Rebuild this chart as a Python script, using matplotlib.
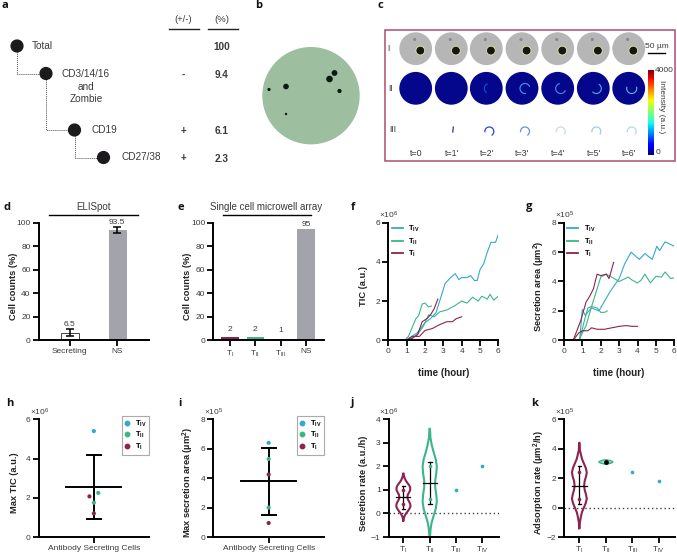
import numpy as np
import matplotlib
matplotlib.use("Agg")
from matplotlib import pyplot as plt
from matplotlib.patches import Circle, Arc, Rectangle
from matplotlib.lines import Line2D

plt.rcParams['font.family'] = ['Liberation Sans', 'DejaVu Sans']
plt.rcParams['mathtext.default'] = 'regular'

W, H = 677, 557
RED = '#8c2350'
GREEN = '#3db48a'
CYAN = '#33a9cf'
GRAY = '#a3a3ab'
TXT = '#3a3a3a'

T1 = 'T$_{I}$'
T2 = 'T$_{II}$'
T3 = 'T$_{III}$'
T4 = 'T$_{IV}$'

# panel a
gate_labels = ['Total', 'CD3/14/16\nand\nZombie', 'CD19', 'CD27/38']
gate_signs = ['', '-', '+', '+']
gate_percent = ['100', '9.4', '6.1', '2.3']

# panel c
time_labels = ['t=0', "t=1'", "t=2'", "t=3'", "t=4'", "t=5'", "t=6'"]
row_labels = ['I', 'II', 'III']
ring_colors = [None, None, '#1c50c8', '#3f9be8', '#3f8fe8', '#45b4e8', '#58bfe8']
ring_spans = [None, None, (120, 250), (80, 340), (20, 260), (300, 140), (340, 200)]
sub_colors = [None, '#2a35b0', '#2e45c8', '#6a8fe0', '#c6dcec', '#9cd0ea', '#aee0e0']

# panel d, e
elispot_labels = ['Secreting', 'NS']
elispot_values = [6.5, 93.5]
elispot_err = [3, 2.5]
array_labels = [T1, T2, T3, 'NS']
array_values = [2.5, 2.5, 1, 95]
array_text = ['2', '2', '1', '95']
array_colors = [RED, GREEN, CYAN, GRAY]

# panel f
f_t4_x = [0.9, 1.2, 1.6, 2.0, 2.3, 2.6, 2.8, 3.1, 3.4, 3.65, 3.85, 4.0, 4.3, 4.5, 4.7, 4.85, 5.0, 5.2, 5.4, 5.6, 5.75, 5.85, 6.0]
f_t4_y = [0, 0.15, 0.4, 0.9, 1.1, 1.4, 2.0, 2.9, 3.2, 3.4, 3.1, 3.2, 3.2, 3.3, 3.05, 3.05, 3.6, 3.9, 4.5, 5.0, 5.0, 5.0, 5.4]
f_t2a_x = [0.9, 1.1, 1.3, 1.5, 1.65, 1.85, 2.0, 2.2, 2.35]
f_t2a_y = [0, 0.2, 0.65, 1.1, 1.25, 1.85, 1.9, 1.7, 1.75]
f_t2b_x = [1.0, 1.3, 1.6, 1.9, 2.2, 2.5, 2.8, 3.2, 3.6, 4.0, 4.3, 4.6, 4.9, 5.1, 5.4, 5.55, 5.75, 6.0]
f_t2b_y = [0, 0.1, 0.3, 0.7, 1.3, 1.2, 1.45, 1.55, 1.75, 2.0, 1.9, 2.2, 2.0, 2.25, 2.1, 2.35, 2.05, 2.25]
f_t1a_x = [0.7, 1.0, 1.3, 1.6, 1.85, 2.1, 2.3, 2.5, 2.7]
f_t1a_y = [0, 0, 0.1, 0.3, 0.95, 1.1, 1.3, 1.6, 2.1]
f_t1b_x = [0.6, 1.0, 1.3, 1.7, 2.0, 2.4, 2.8, 3.2, 3.5, 3.7, 4.0]
f_t1b_y = [0, 0, 0.2, 0.2, 0.5, 0.6, 0.8, 0.95, 0.95, 1.1, 1.2]

# panel g
g_t4_x = [0.85, 1.0, 1.15, 1.5, 1.9, 2.5, 3.0, 3.3, 3.65, 4.1, 4.4, 4.8, 5.05, 5.2, 5.5, 6.0]
g_t4_y = [0, 2.1, 1.7, 2.2, 2.0, 3.3, 4.2, 5.2, 6.0, 5.5, 5.9, 5.5, 6.4, 6.1, 6.7, 6.4]
g_t2a_x = [0.85, 1.1, 1.3, 1.5, 1.8, 2.0, 2.2, 2.35]
g_t2a_y = [0, 1.3, 2.2, 2.3, 2.2, 1.9, 1.9, 2.0]
g_t2b_x = [0.8, 1.2, 1.5, 1.8, 2.0, 2.3, 2.6, 3.0, 3.5, 3.7, 4.0, 4.2, 4.4, 4.7, 5.0, 5.3, 5.5, 5.8, 6.0]
g_t2b_y = [0, 1.0, 2.3, 3.5, 4.3, 4.5, 4.3, 4.0, 4.3, 4.1, 3.9, 4.1, 4.5, 3.9, 4.35, 4.3, 4.65, 4.2, 4.25]
g_t1a_x = [0.5, 0.9, 1.2, 1.4, 1.6, 1.8, 2.0, 2.3, 2.45, 2.7]
g_t1a_y = [0, 1.3, 2.6, 3.0, 3.5, 4.5, 4.4, 4.5, 4.2, 5.3]
g_t1b_x = [0.5, 0.8, 1.0, 1.3, 1.5, 1.8, 2.2, 2.6, 3.0, 3.4, 3.7, 4.0]
g_t1b_y = [0, 0.5, 0.65, 0.65, 0.85, 0.75, 0.75, 0.85, 0.95, 1.0, 0.95, 0.95]

# panel h, i
h_x = [1, 1.08, 0.92, 1, 1]
h_y = [5.4, 2.25, 2.07, 1.75, 1.2]
i_x = [1, 1, 1, 1, 1]
i_y = [6.4, 5.3, 4.25, 2.0, 0.95]
point_colors = [CYAN, GREEN, RED, GREEN, RED]
h_mean, h_low, h_high = 2.55, 0.9, 4.2
i_mean, i_low, i_high = 3.8, 1.5, 6.05

# panel j, k
rate_labels = [T1, T2, T3, T4]
j_v1_y = [-0.3, -0.2, -0.1, 0, 0.1, 0.2, 0.3, 0.4, 0.5, 0.6, 0.7, 0.8, 0.9, 1.0, 1.1, 1.2, 1.3, 1.4, 1.5, 1.6, 1.7]
j_v1_w = [0.01, 0.02, 0.05, 0.1, 0.17, 0.23, 0.27, 0.26, 0.22, 0.17, 0.15, 0.17, 0.22, 0.26, 0.26, 0.22, 0.15, 0.09, 0.05, 0.02, 0.01]
j_v2_y = [-1, -0.7, -0.4, -0.1, 0.2, 0.5, 0.8, 1.1, 1.4, 1.7, 2, 2.3, 2.6, 2.9, 3.2, 3.6]
j_v2_w = [0.01, 0.03, 0.07, 0.15, 0.23, 0.27, 0.25, 0.21, 0.21, 0.25, 0.27, 0.23, 0.15, 0.08, 0.03, 0.01]
j_stats = [(0.7, 0.2, 1.15), (1.3, 0.4, 2.2)]
j_pts = [(1, 0.4, RED), (1, 1.0, RED), (2, 0.6, GREEN), (2, 2.0, GREEN), (3, 1.0, CYAN), (4, 2.0, CYAN)]
k_v1_y = [-1.4, -1, -0.6, -0.3, 0, 0.3, 0.6, 0.9, 1.2, 1.5, 1.8, 2.1, 2.4, 2.7, 3, 3.3, 3.6, 3.9, 4.4]
k_v1_w = [0.01, 0.02, 0.06, 0.1, 0.17, 0.24, 0.28, 0.25, 0.2, 0.18, 0.2, 0.25, 0.28, 0.24, 0.17, 0.1, 0.06, 0.02, 0.01]
k_v2_y = [2.95, 3.0, 3.05, 3.1, 3.15, 3.2, 3.25]
k_v2_w = [0.02, 0.15, 0.23, 0.27, 0.23, 0.15, 0.02]
k_stats = [(1.5, 0.25, 2.8)]
k_pts = [(1, 0.6, RED), (1, 2.4, RED), (2, 3.1, 'black'), (3, 2.4, CYAN), (4, 1.8, CYAN)]


def add_ax(left, top, right, bottom):
    ax = fig.add_axes([left / W, 1 - bottom / H, (right - left) / W, (bottom - top) / H])
    ax.patch.set_alpha(0)
    for s in ['top', 'right']:
        ax.spines[s].set_visible(False)
    for s in ['left', 'bottom']:
        ax.spines[s].set_linewidth(1.4)
    ax.tick_params(width=1.3, length=4, labelsize=6, labelcolor=TXT, pad=1.8)
    ax.spines['left'].set_zorder(5)
    return ax


def ylabel(ax, text, px, size=6.7):
    ax.set_ylabel(text, fontsize=size, color='#222222', fontweight='bold')
    ax.yaxis.set_label_coords(-px / (ax.get_position().width * W), 0.46)


def tree_legend(ax, anchor):
    hs = [Line2D([], [], color=c, lw=1.3) for c in [CYAN, GREEN, RED]]
    leg = ax.legend(hs, [T4, T2, T1], loc='upper left', bbox_to_anchor=anchor, frameon=False,
                    fontsize=5.5, handlelength=1.45, handletextpad=0.7, labelspacing=0.3, borderpad=0, borderaxespad=0)
    for t in leg.get_texts():
        t.set_fontweight('bold')


def dot_legend(ax, anchor):
    hs = [Line2D([], [], color=c, marker='o', ms=3.2, ls='none') for c in [CYAN, GREEN, RED]]
    leg = ax.legend(hs, [T4, T2, T1], loc='upper right', bbox_to_anchor=anchor, fancybox=False, edgecolor='#aaaaaa',
                    framealpha=1, fontsize=5.5, handlelength=0.6, handletextpad=0.7, labelspacing=0.2,
                    borderpad=0.35, borderaxespad=0)
    leg.get_frame().set_linewidth(0.8)
    for t in leg.get_texts():
        t.set_fontweight('bold')


def violin(ax, pos, ys, ws, color):
    ys = np.array(ys)
    ws = np.array(ws)
    ax.plot(np.r_[pos - ws, (pos + ws)[::-1], pos - ws[0]], np.r_[ys, ys[::-1], ys[0]], color=color, lw=1.5, solid_joinstyle='round')


def stat_bar(ax, pos, mean, low, high, half=0.27, cap=0.08):
    ax.plot([pos - half, pos + half], [mean, mean], color='black', lw=0.9)
    ax.plot([pos, pos], [low, high], color='black', lw=0.9)
    for v in [low, high]:
        ax.plot([pos - cap, pos + cap], [v, v], color='black', lw=0.9)


fig = plt.figure(figsize=(W / 100, H / 100), dpi=100)
bg = fig.add_axes([0, 0, 1, 1])
bg.axis('off')

# panel letters
for name, x, y in [('a', 2, 6), ('b', 255, 6), ('c', 377, 6), ('d', 3, 207), ('e', 178, 207), ('f', 351, 207),
                   ('g', 526, 207), ('h', 6, 403), ('i', 178, 403), ('j', 351, 403), ('k', 531, 403)]:
    bg.text(x, y, name, fontsize=8, fontweight='bold', color='#111111', va='center', family=['Open Sans', 'DejaVu Sans'])

# panel a: gating tree
node_x = [17, 46, 74.5, 103.5]
node_y = [46, 73.5, 130, 157.5]
text_x = [32, 86, 92, 121]
for i in range(4):
    bg.add_patch(Circle((node_x[i], node_y[i]), 5.9, color='#1c1a1c', zorder=3))
    if i < 3:
        bg.plot([node_x[i], node_x[i], node_x[i + 1]], [node_y[i], node_y[i + 1], node_y[i + 1]],
                color='#555555', lw=0.7, ls=(0, (1, 1)))
    if i == 1:
        bg.text(text_x[i], node_y[i] + 13, gate_labels[i], fontsize=7.2, color=TXT, ha='center', va='center', linespacing=1.3)
    else:
        bg.text(text_x[i], node_y[i], gate_labels[i], fontsize=7.2, color=TXT, va='center')
    bg.text(183, node_y[i] + 1, gate_signs[i], fontsize=7, color=TXT, fontweight='bold', ha='center', va='center')
    bg.text(221.5, node_y[i] + 1, gate_percent[i], fontsize=7.2, color=TXT, fontweight='bold', ha='center', va='center')
bg.text(183, 19, '(+/-)', fontsize=6.8, color=TXT, ha='center', va='center')
bg.text(222, 19, '(%)', fontsize=6.8, color=TXT, ha='center', va='center')
bg.plot([169, 199], [29, 29], color='#222222', lw=1)
bg.plot([207.5, 237.5], [29, 29], color='#222222', lw=1)

# panel b: well image
bg.add_patch(Circle((311, 95.7), 48, color='#9dbfa0'))
for sx, sy, sr in [(334.5, 73, 2.2), (329.5, 79, 2.6), (286, 86.5, 2.1), (339.5, 91, 1.4), (269, 89.5, 0.9), (286, 114, 0.5)]:
    bg.add_patch(Circle((sx, sy), sr, color='#0c1a12'))

# panel c: time series
bg.add_patch(Rectangle((385, 29.7), 290, 131.5, fill=False, ec='#b04a70', lw=1.1))
disc_x = [415.7, 451.3, 486.3, 522, 557.7, 593.3, 628.7]
for i, dx in enumerate(disc_x):
    bg.add_patch(Circle((dx, 48.7), 15.7, color='#b6b6b6'))
    bg.add_patch(Circle((dx + 4.6, 50.6), 4.4, fc='#161616', ec='#e6e6a0', lw=0.6))
    bg.add_patch(Circle((dx - 1, 39.5), 0.9, color='#8a8a8a'))
    bg.add_patch(Circle((dx, 88.3), 15.7, color='#04068c'))
    if ring_colors[i]:
        bg.add_patch(Arc((dx + 3, 88.5), 10, 10, theta1=ring_spans[i][0], theta2=ring_spans[i][1], color=ring_colors[i], lw=0.8))
    if sub_colors[i]:
        if i == 1:
            bg.plot([dx + 2, dx + 1.5], [127, 132], color=sub_colors[i], lw=0.9)
        else:
            bg.add_patch(Arc((dx + 3, 131.5), 9, 9, theta1=170, theta2=40 + 360 if i > 3 else 60 + 360, color=sub_colors[i], lw=0.9))
    bg.text(dx + 0.5, 153, time_labels[i], fontsize=6.4, color=TXT, ha='center', va='center')
for lab, x, y in zip(row_labels, [387.5, 388, 389], [48.7, 88.3, 130]):
    bg.text(x, y, lab, fontsize=6.2, color=TXT, va='center')
bg.imshow(np.linspace(1, 0, 256).reshape(-1, 1), cmap='jet', extent=(648, 654, 155, 70), aspect='auto', zorder=2)
bg.text(655, 70.5, '4000', fontsize=6, color=TXT, va='center')
bg.text(656, 153, '0', fontsize=6, color=TXT, va='center')
bg.text(662, 107, 'Intensity (a.u.)', fontsize=6, color=TXT, rotation=-90, ha='center', va='center')
bg.text(657, 47, '50 µm', fontsize=6, color=TXT, ha='center', va='center')
bg.plot([648, 664.5], [53, 53], color='black', lw=1)

# title rules for d, e
bg.text(93.5, 207.5, 'ELISpot', fontsize=7, color=TXT, ha='center', va='center')
bg.plot([49.3, 137.7], [215, 215], color='black', lw=1)
bg.text(266.5, 207.5, 'Single cell microwell array', fontsize=7, color=TXT, ha='center', va='center')
bg.plot([222.7, 310.7], [215, 215], color='black', lw=1)

# multiplier labels
for txt, x, y in [('×10$^{6}$', 379, 215), ('×10$^{5}$', 555, 215), ('×10$^{6}$', 30, 412), ('×10$^{5}$', 204, 412),
                  ('×10$^{6}$', 379, 412), ('×10$^{5}$', 555, 412)]:
    bg.text(x, y, txt, fontsize=6, color=TXT, va='center')

bg.set_xlim(0, W)
bg.set_ylim(H, 0)

# panel d
ax = add_ax(38.7, 222.7, 149, 340.3)
ax.bar([1, 2], elispot_values, width=0.366, color=['white', GRAY], edgecolor=['#444444', GRAY], linewidth=0.7)
ax.errorbar([1, 2], elispot_values, yerr=elispot_err, fmt='none', ecolor='black', elinewidth=1.1, capsize=2.6, capthick=1.1)
ax.text(1, 10.5, '6.5', ha='center', va='bottom', fontsize=6, color=TXT)
ax.text(2, 97, '93.5', ha='center', va='bottom', fontsize=6, color=TXT)
ax.set_xlim(0.34, 2.67)
ax.set_ylim(0, 100)
ax.set_xticks([1, 2], elispot_labels)
ax.set_yticks(range(0, 101, 20))
ylabel(ax, 'Cell counts (%)', 21)

# panel e
ax = add_ax(213.3, 222.7, 324, 340.3)
ax.bar(range(1, 5), array_values, width=0.68, color=array_colors)
for i in range(4):
    ax.text(i + 1, array_values[i] + 4 if i < 3 else 95.2, array_text[i], ha='center', va='bottom', fontsize=6, color=TXT)
ax.set_xlim(0.34, 4.71)
ax.set_ylim(0, 100)
ax.set_xticks(range(1, 5), array_labels)
ax.set_yticks(range(0, 101, 20))
ylabel(ax, 'Cell counts (%)', 21)

# panel f
ax = add_ax(388.3, 222.7, 498.3, 340.3)
ax.plot(f_t4_x, f_t4_y, color=CYAN, lw=0.8)
ax.plot(f_t2a_x, f_t2a_y, color=GREEN, lw=0.8)
ax.plot(f_t2b_x, f_t2b_y, color=GREEN, lw=0.8)
ax.plot(f_t1a_x, f_t1a_y, color=RED, lw=0.8)
ax.plot(f_t1b_x, f_t1b_y, color=RED, lw=0.8)
ax.set_xlim(0, 6)
ax.set_ylim(0, 6)
ax.set_xticks(range(7))
ax.set_yticks([0, 2, 4, 6])
ax.set_xlabel('time (hour)', fontsize=7, fontweight='bold', color='#222222', labelpad=9)
ylabel(ax, 'TIC (a.u.)', 20)
tree_legend(ax, (0.03, 0.99))

# panel g
ax = add_ax(564, 222.7, 674.3, 340.3)
ax.plot(g_t4_x, g_t4_y, color=CYAN, lw=0.8)
ax.plot(g_t2a_x, g_t2a_y, color=GREEN, lw=0.8)
ax.plot(g_t2b_x, g_t2b_y, color=GREEN, lw=0.8)
ax.plot(g_t1a_x, g_t1a_y, color=RED, lw=0.8)
ax.plot(g_t1b_x, g_t1b_y, color=RED, lw=0.8)
ax.set_xlim(0, 6)
ax.set_ylim(0, 8)
ax.set_xticks(range(7))
ax.set_yticks([0, 2, 4, 6, 8])
ax.set_xlabel('time (hour)', fontsize=7, fontweight='bold', color='#222222', labelpad=9)
ylabel(ax, 'Secretion area (µm$^{2}$)', 17)
tree_legend(ax, (0.03, 0.99))

# panel h
ax = add_ax(38.7, 419.3, 149, 537)
ax.scatter(h_x, h_y, s=9, c=point_colors, zorder=4, linewidths=0)
stat_bar(ax, 1, h_mean, h_low, h_high, half=0.5, cap=0.125)
for l in ax.lines:
    l.set_linewidth(1.4)
ax.set_xlim(0, 2)
ax.set_ylim(0, 6)
ax.set_xticks([1], ['Antibody Secreting Cells'])
ax.set_yticks([0, 2, 4, 6])
ylabel(ax, 'Max TIC (a.u.)', 20)
dot_legend(ax, (1.0, 1.03))

# panel i
ax = add_ax(213.3, 419.3, 324, 537)
ax.scatter(i_x, i_y, s=9, c=point_colors, zorder=4, linewidths=0)
stat_bar(ax, 1, i_mean, i_low, i_high, half=0.5, cap=0.125)
for l in ax.lines:
    l.set_linewidth(1.4)
ax.set_xlim(0, 2)
ax.set_ylim(0, 8)
ax.set_xticks([1], ['Antibody Secreting Cells'])
ax.set_yticks([0, 2, 4, 6, 8])
ylabel(ax, 'Max secretion area (µm$^{2}$)', 17)
dot_legend(ax, (1.0, 1.03))

# panel j
ax = add_ax(388.7, 419.3, 498.7, 537)
violin(ax, 1, j_v1_y, j_v1_w, RED)
violin(ax, 2, j_v2_y, j_v2_w, GREEN)
for p, st in enumerate(j_stats):
    stat_bar(ax, p + 1, st[0], st[1], st[2], half=0.27, cap=0.07)
ax.axhline(0, color='#444444', lw=1, ls=(0, (1, 2)), zorder=1)
for px, py, c in j_pts:
    ax.scatter(px, py, s=7, color=c, zorder=4, linewidths=0)
ax.set_xlim(0.443, 4.62)
ax.set_ylim(-1, 4)
ax.set_xticks(range(1, 5), rate_labels)
ax.set_yticks(range(-1, 5))
ylabel(ax, 'Secretion rate (a.u./h)', 21)

# panel k
ax = add_ax(564, 419.3, 675, 537)
violin(ax, 1, k_v1_y, k_v1_w, RED)
ax.fill_betweenx(k_v2_y, 2 - np.array(k_v2_w), 2 + np.array(k_v2_w), color=GREEN, alpha=0.45, linewidth=0)
ax.plot(np.r_[2 - np.array(k_v2_w), (2 + np.array(k_v2_w))[::-1]], np.r_[k_v2_y, k_v2_y[::-1]], color=GREEN, lw=1)
stat_bar(ax, 1, k_stats[0][0], k_stats[0][1], k_stats[0][2], half=0.27, cap=0.07)
ax.axhline(0, color='#444444', lw=1, ls=(0, (1, 2)), zorder=1)
for px, py, c in k_pts:
    ax.scatter(px, py, s=7 if c != 'black' else 12, color=c, zorder=4, linewidths=0)
ax.set_xlim(0.42, 4.61)
ax.set_ylim(-2, 6)
ax.set_xticks(range(1, 5), rate_labels)
ax.set_yticks([-2, 0, 2, 4, 6])
ylabel(ax, 'Adsorption rate (µm$^{2}$/h)', 17)

fig.savefig('out.png', dpi=100)
